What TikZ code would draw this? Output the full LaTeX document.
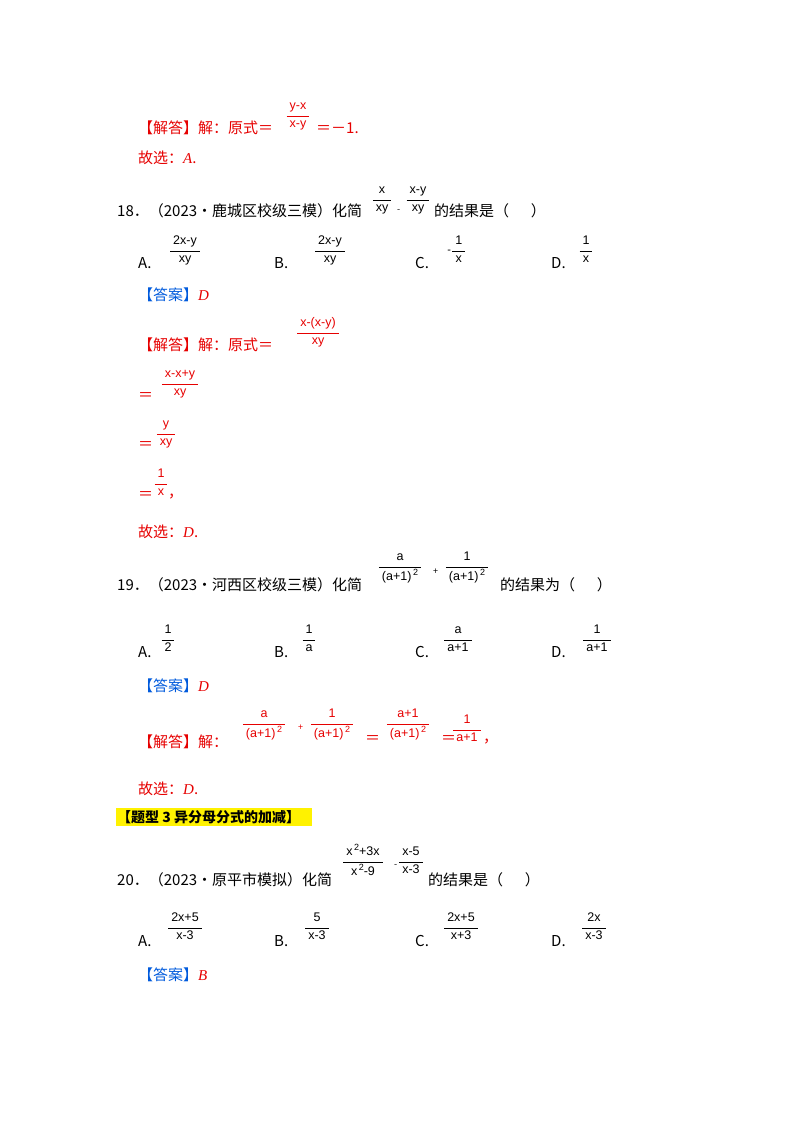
\documentclass[tikz,border=0pt]{standalone}
\usepackage{amsmath}
\usepackage{fontspec}
\setmainfont{Liberation Serif}
\newfontfamily\cjk{Noto Sans CJK SC}
\newfontfamily\fracfont{Liberation Sans}
\newfontfamily\latit{Liberation Serif Italic}
\definecolor{ansred}{RGB}{230,0,0}
\definecolor{ansblue}{RGB}{0,90,220}
\newcommand\fr[2]{$\displaystyle\genfrac{}{}{0.7pt}{}{\hbox{\kern3pt\fontsize{12.5}{13}\fracfont\strut #1\kern3pt}}{\hbox{\kern3pt\fontsize{12.5}{13}\fracfont\strut #2\kern3pt}}$}
\newcommand\sq{\raisebox{5pt}{\fontsize{9}{9}\selectfont\,2}}
\newcommand\il[1]{{\latit #1}}
\begin{document}
\begin{tikzpicture}[x=1pt,y=1pt,
  txt/.style={anchor=west,inner sep=0pt,font=\fontsize{15}{17}\cjk},
  rtxt/.style={txt,text=ansred},
  frc/.style={inner sep=0pt,anchor=center},
  rfrc/.style={frc,text=ansred}]
\useasboundingbox (0,0) rectangle (800,-1132);
% block 1
\node[rtxt] (l1) at (138,-128) {【解答】解：原式＝};
\node[rfrc] (f1) at (298,-116) {\fr{y-x}{x-y}};
\node[rtxt] (l1b) at (316,-128) {＝－1.};
\node[rtxt] (g1) at (138,-158) {故选：\il{A}.};
% 18
\node[txt] (q18) at (117,-211) {18．（2023•鹿城区校级三模）化简};
\node[frc] (q18a) at (382,-200) {\fr{x}{xy}};
\node[txt] (q18m) at (397,-211) {\fontsize{9}{9}\selectfont -};
\node[frc] (q18b) at (418,-200) {\fr{x-y}{xy}};
\node[txt] (q18c) at (434,-211) {的结果是（\quad\ \ ）};
\node[txt] (o18a) at (138,-263) {A.};
\node[frc] (o18af) at (185,-251) {\fr{2x-y}{xy}};
\node[txt] (o18b) at (274,-263) {B.};
\node[frc] (o18bf) at (330,-251) {\fr{2x-y}{xy}};
\node[txt] (o18c) at (415,-263) {C.};
\node[frc] (o18cf) at (457,-251) {{\fontsize{11}{12}\fracfont -}\fr{1}{x}};
\node[txt] (o18d) at (551,-263) {D.};
\node[frc] (o18df) at (586,-251) {\fr{1}{x}};
\node[txt,text=ansblue] (a18) at (138,-295) {【答案】{\color{ansred}\il{D}}};
\node[rtxt] (s18) at (138,-345) {【解答】解：原式＝};
\node[rfrc] (s18f) at (318,-333) {\fr{x-(x-y)}{xy}};
\node[rtxt] (s18e1) at (138,-397) {＝};
\node[rfrc] (s18f1) at (180,-384) {\fr{x-x+y}{xy}};
\node[rtxt] (s18e2) at (138,-446) {＝};
\node[rfrc] (s18f2) at (166,-434) {\fr{y}{xy}};
\node[rtxt] (s18e3) at (138,-496) {＝};
\node[rfrc] (s18f3) at (161,-484) {\fr{1}{x}};
\node[rtxt] (s18c) at (168,-497) {，};
\node[rtxt] (g18) at (138,-532) {故选：\il{D}.};
% 19
\node[txt] (q19) at (117,-585) {19．（2023•河西区校级三模）化简};
\node[frc] (q19a) at (400,-568) {\fr{a}{(a+1)\sq}};
\node[txt] (q19p) at (433,-572) {\fontsize{9}{9}\selectfont +};
\node[frc] (q19b) at (467,-568) {\fr{1}{(a+1)\sq}};
\node[txt] (q19c) at (500,-585) {的结果为（\quad\ \ ）};
\node[txt] (o19a) at (138,-652) {A.};
\node[frc] (o19af) at (168,-640) {\fr{1}{2}};
\node[txt] (o19b) at (274,-652) {B.};
\node[frc] (o19bf) at (309,-640) {\fr{1}{a}};
\node[txt] (o19c) at (415,-652) {C.};
\node[frc] (o19cf) at (458,-640) {\fr{a}{a+1}};
\node[txt] (o19d) at (551,-652) {D.};
\node[frc] (o19df) at (597,-640) {\fr{1}{a+1}};
\node[txt,text=ansblue] (a19) at (138,-686) {【答案】{\color{ansred}\il{D}}};
\node[rtxt] (s19) at (138,-742) {【解答】解：};
\node[rfrc] (s19a) at (264,-725) {\fr{a}{(a+1)\sq}};
\node[rtxt] (s19p) at (298,-728) {\fontsize{9}{9}\selectfont +};
\node[rfrc] (s19b) at (332,-725) {\fr{1}{(a+1)\sq}};
\node[rtxt] (s19e) at (365,-740) {＝};
\node[rfrc] (s19c) at (408,-725) {\fr{a+1}{(a+1)\sq}};
\node[rtxt] (s19e2) at (441,-740) {＝};
\node[rfrc] (s19d) at (467,-730) {\fr{1}{a+1}};
\node[rtxt] (s19k) at (483,-742) {，};
\node[rtxt] (g19) at (138,-789) {故选：\il{D}.};
% heading
\fill[yellow] (116,-808) rectangle (312,-826);
\node[txt,font=\fontsize{14}{16}\cjk\bfseries] (h3) at (117,-817) {【题型 3 异分母分式的加减】};
% 20
\node[txt] (q20) at (117,-880) {20．（2023•原平市模拟）化简};
\node[frc] (q20a) at (363,-862) {\fr{x\sq+3x}{x\sq-9}};
\node[txt] (q20m) at (394,-866) {\fontsize{9}{9}\selectfont -};
\node[frc] (q20b) at (411,-862) {\fr{x-5}{x-3}};
\node[txt] (q20c) at (428,-880) {的结果是（\quad\ \ ）};
\node[txt] (o20a) at (138,-941) {A.};
\node[frc] (o20af) at (185,-928) {\fr{2x+5}{x-3}};
\node[txt] (o20b) at (274,-941) {B.};
\node[frc] (o20bf) at (317,-928) {\fr{5}{x-3}};
\node[txt] (o20c) at (415,-941) {C.};
\node[frc] (o20cf) at (461,-928) {\fr{2x+5}{x+3}};
\node[txt] (o20d) at (551,-941) {D.};
\node[frc] (o20df) at (594,-928) {\fr{2x}{x-3}};
\node[txt,text=ansblue] (a20) at (138,-975) {【答案】{\color{ansred}\il{B}}};
\end{tikzpicture}
\end{document}
